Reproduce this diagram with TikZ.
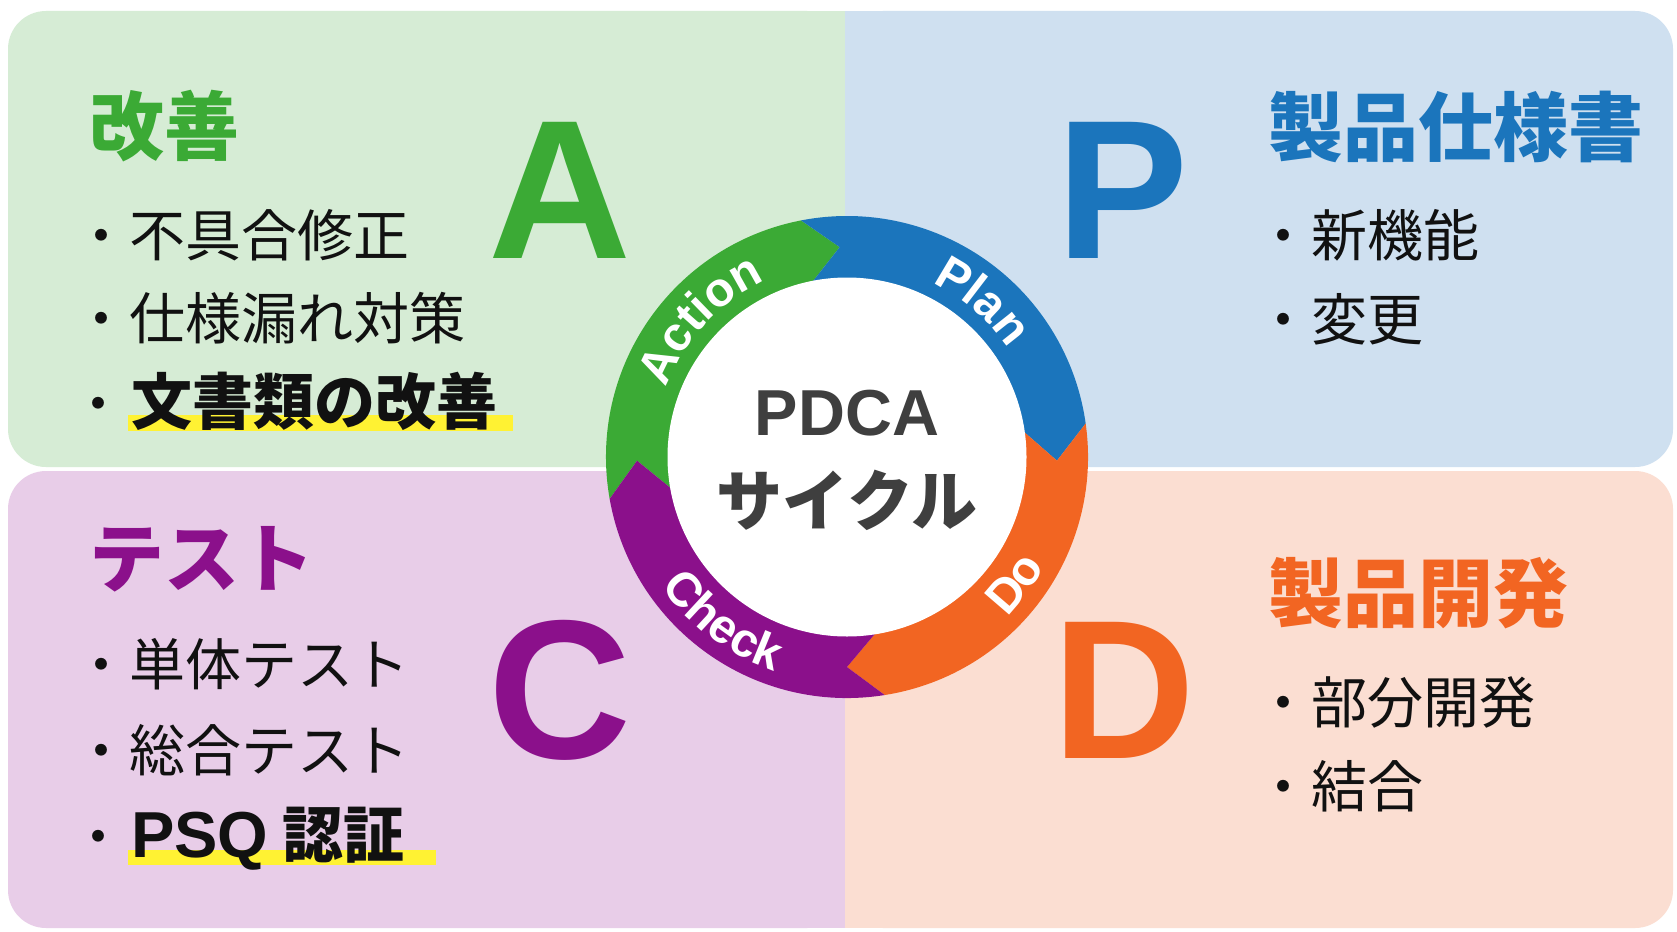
\documentclass[tikz,border=0pt]{standalone}
\usepackage{fontspec}
\setmainfont{Liberation Sans}
\newfontfamily\jp{Noto Sans CJK JP}
\usetikzlibrary{decorations.text}
\definecolor{pgreen}{HTML}{D6ECD5}
\definecolor{pblue}{HTML}{CFE0F0}
\definecolor{ppurple}{HTML}{E8CDE8}
\definecolor{porange}{HTML}{FBDED2}
\definecolor{cgreen}{HTML}{3BAA35}
\definecolor{cblue}{HTML}{1B75BC}
\definecolor{corange}{HTML}{F26522}
\definecolor{cpurple}{HTML}{8B108B}
\definecolor{ctext}{HTML}{3F3F3F}
\definecolor{hl}{HTML}{FFF233}
\definecolor{btext}{HTML}{111111}
\newcommand{\ringseg}[3]{%
  \fill[#1] (#2+9:241) arc[start angle=#2+9, end angle=#3+9, radius=241]
    -- (#3:210) -- (#3+9:179) arc[start angle=#3+9, end angle=#2+9, radius=179]
    -- (#2:210) -- cycle;}
\newcommand{\ringfont}{\bfseries\fontsize{48}{48}\selectfont}
\newcommand{\bdot}{{\mdseries\fontsize{56}{56}\selectfont ・}\hspace{5pt}}
\begin{document}
\begin{tikzpicture}[x=1pt,y=-1pt,
  bigletter/.style={font=\bfseries\fontsize{198}{198}\selectfont, inner sep=0pt},
  heading/.style={font=\jp\bfseries\fontsize{75}{75}\selectfont, anchor=base west, inner sep=0pt},
  item/.style={font=\jp\fontsize{56}{56}\selectfont, anchor=base west, inner sep=0pt, text=btext},
  bolditem/.style={font=\jp\bfseries\fontsize{61}{61}\selectfont, anchor=base west, inner sep=0pt, text=btext},
  ringlabel/.style={decorate, decoration={text along path, text align=center, text color=white}}
]
\useasboundingbox (0,0) rectangle (1677,931);
\fill[white] (0,0) rectangle (1677,931);
% panels
\fill[pgreen, rounded corners=38] (8,11) rectangle (845,467);
\fill[pgreen] (500,11) rectangle (845,467);
\fill[pblue, rounded corners=38] (845,11) rectangle (1673,467);
\fill[pblue] (845,11) rectangle (1200,467);
\fill[ppurple, rounded corners=38] (8,471) rectangle (845,928);
\fill[ppurple] (500,471) rectangle (845,928);
\fill[porange, rounded corners=38] (845,471) rectangle (1673,928);
\fill[porange] (845,471) rectangle (1200,928);
% ring
\begin{scope}[shift={(847,457)}, y=1pt]
  \ringseg{cgreen}{181}{92}
  \ringseg{cblue}{92}{-1}
  \ringseg{corange}{-1}{-90}
  \ringseg{cpurple}{270}{181}
  \fill[white] (0,0) circle[radius=179.5];
  \path[ringlabel, decoration={text={|\ringfont|Action}}] (182:194) arc[start angle=182, end angle=92, radius=194];
  \path[ringlabel, decoration={text={|\ringfont|Plan}}] (94:194) arc[start angle=94, end angle=4, radius=194];
  \path[ringlabel, decoration={text={|\ringfont|Do}}] (-82:226) arc[start angle=-82, end angle=8, radius=226];
  \path[ringlabel, decoration={text={|\ringfont|Check}}] (-172:226) arc[start angle=-172, end angle=-82, radius=226];
\end{scope}
\node[font=\bfseries\fontsize{65}{65}\selectfont, text=ctext, inner sep=0pt] (pdca) at (847,413) {PDCA};
\node[font=\jp\bfseries\fontsize{66}{66}\selectfont, text=ctext, inner sep=0pt] (cycle) at (847,500) {サイクル};
% big letters
\node[bigletter, text=cgreen] (bigA) at (560,190) {A};
\node[bigletter, text=cblue] (bigP) at (1123,190) {P};
\node[bigletter, text=cpurple] (bigC) at (560,690) {C};
\node[bigletter, text=corange] (bigD) at (1124,690) {D};
% highlights
\fill[hl] (128,415) rectangle (513,431);
\fill[hl] (128,850) rectangle (436,865);
% Action panel
\node[heading, text=cgreen] (hA) at (89,154) {改善};
\node[item] (a1) at (73,256) {・不具合修正};
\node[item] (a2) at (73,339) {・仕様漏れ対策};
\node[bolditem] (a3) at (70,424) {\bdot 文書類の改善};
% Check panel
\node[heading, text=cpurple] (hC) at (89,586) {テスト};
\node[item] (c1) at (73,685) {・単体テスト};
\node[item] (c2) at (73,771) {・総合テスト};
\node[bolditem] (c3) at (70,857) {\bdot{\rmfamily\fontsize{65}{65}\selectfont PSQ}\hspace{14pt}認証};
% Plan panel
\node[heading, text=cblue] (hP) at (1268,155) {製品仕様書};
\node[item] (p1) at (1255,256) {・新機能};
\node[item] (p2) at (1255,340) {・変更};
% Do panel
\node[heading, text=corange] (hD) at (1268,621) {製品開発};
\node[item] (d1) at (1255,723) {・部分開発};
\node[item] (d2) at (1255,807) {・結合};
\end{tikzpicture}
\end{document}
